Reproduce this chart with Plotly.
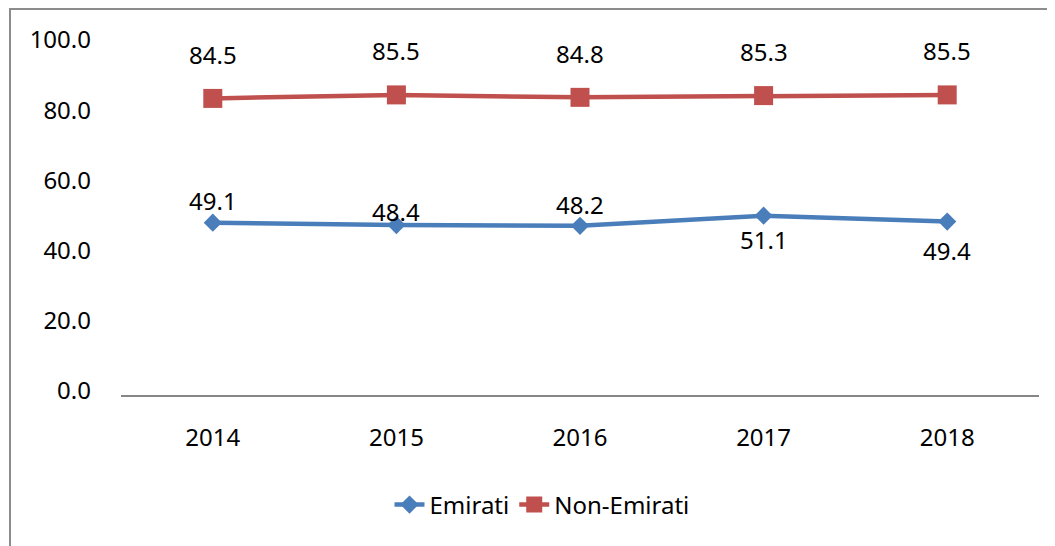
import plotly.graph_objects as go

years = ["2014", "2015", "2016", "2017", "2018"]
emirati = [49.1, 48.4, 48.2, 51.1, 49.4]
non_emirati = [84.5, 85.5, 84.8, 85.3, 85.5]
emirati_label_shift = [22, 14, 21, -24, -29]
non_emirati_label_shift = [44, 44, 44, 44, 44]
y_ticks = [0, 20, 40, 60, 80, 100]

FONT = "Noto Sans"
FS = 24
BLUE = "#4A7EBB"
RED = "#C0504D"

# page is offset 8px by the default body margin; layout computed in figure px
W, H = 1047, 538
L, R, T, B = 113, 16, 36, 151
PW, PH = W - L - R, H - T - B

fig = go.Figure()
fig.add_trace(go.Scatter(
    x=years, y=emirati, name="Emirati", mode="lines+markers",
    line=dict(color=BLUE, width=4.5),
    marker=dict(symbol="diamond", size=14, color=BLUE),
))
fig.add_trace(go.Scatter(
    x=years, y=non_emirati, name="Non-Emirati", mode="lines+markers",
    line=dict(color=RED, width=4.5),
    marker=dict(symbol="square", size=19, color=RED),
))

annotations = []
for i, (v, s) in enumerate(zip(emirati, emirati_label_shift)):
    annotations.append(dict(x=i, y=v, xref="x", yref="y", text=f"{v:.1f}", showarrow=False,
                            yshift=s, font=dict(family=FONT, size=FS, color="#000")))
for i, (v, s) in enumerate(zip(non_emirati, non_emirati_label_shift)):
    annotations.append(dict(x=i, y=v, xref="x", yref="y", text=f"{v:.1f}", showarrow=False,
                            yshift=s, font=dict(family=FONT, size=FS, color="#000")))

fig.update_layout(
    width=W, height=H,
    margin=dict(l=L, r=R, t=T, b=B, autoexpand=False),
    paper_bgcolor="white", plot_bgcolor="white",
    font=dict(family=FONT, size=FS, color="#000"),
    showlegend=True,
    legend=dict(orientation="h", x=(534 - L) / PW, xanchor="center",
                y=(387 - 497) / PH, yanchor="middle",
                font=dict(family=FONT, size=FS, color="#000")),
    annotations=annotations,
    xaxis=dict(type="category", range=[-0.5, 4.5], showgrid=False, zeroline=False,
               showline=True, linecolor="#868686", linewidth=1.5, ticks="",
               ticklabelstandoff=20),
    yaxis=dict(range=[0, 100], tickvals=y_ticks, ticktext=[f"{t:.1f}" for t in y_ticks],
               showgrid=False, zeroline=False, showline=False, ticks="",
               ticklabelstandoff=29, ticklabelshift=-4),
    shapes=[dict(type="rect", xref="paper", yref="paper",
                 x0=(2 - L) / PW, x1=1.2, y0=-0.6, y1=(387 - 1) / PH,
                 line=dict(color="#8C8C8C", width=2), fillcolor="rgba(0,0,0,0)",
                 layer="below")],
)

fig.write_html("out.html")
